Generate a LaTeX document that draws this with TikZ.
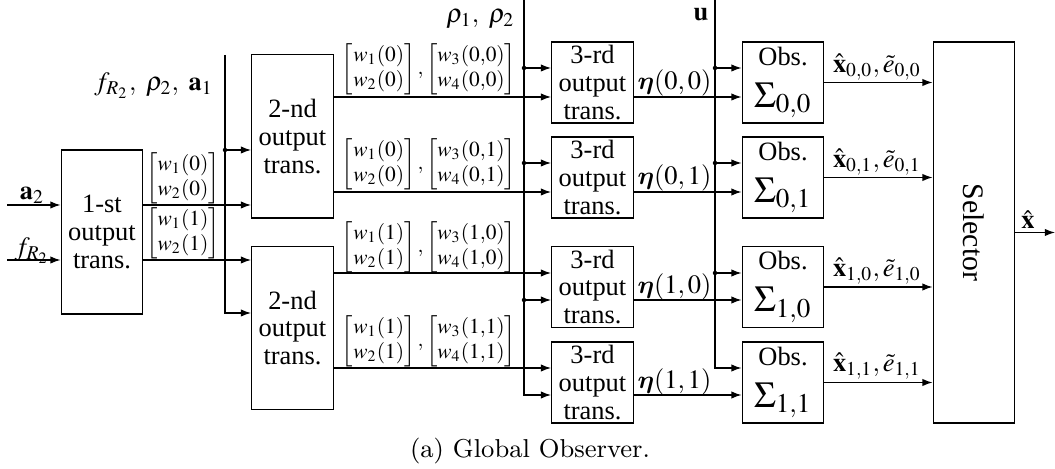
\documentclass[tikz,border=0pt]{standalone}
\usepackage{amsmath,bm}
\usepackage{mathptmx}
\usepackage[no-math]{fontspec}
\renewcommand{\rmdefault}{lmr}
\newfontfamily\tnr{Liberation Serif}
\usepackage{tikz}
\usetikzlibrary{calc,positioning,arrows.meta}
\newcommand{\sigfont}{\fontsize{13}{15}\selectfont}
\tikzset{
  blk/.style={draw, inner sep=0pt, align=center, minimum width=1.02cm},
  wlab/.style={font=\tnr\fontsize{7.6}{9}\selectfont, inner sep=0pt},
}

\begin{document}
\begin{tikzpicture}[x=0.0125cm,y=-0.0125cm,line width=0.45pt,
  >={Latex[length=3.6pt,width=2.6pt]},
  every node/.style={font=\tnr\fontsize{9.4}{9.8}\selectfont}]
  \useasboundingbox (0,0) rectangle (1055,469);

  \node[blk, minimum height=2.05cm] (box1) at (102,232) {1-st\\output\\trans.};
  \node[blk, minimum height=2.04cm] (box2a) at (292.5,136.5) {2-nd\\output\\trans.};
  \node[blk, minimum height=2.03cm] (box2b) at (292.5,328) {2-nd\\output\\trans.};
  \node[blk, minimum height=1.0125cm] (t00) at (592.5,82.5) {3-rd\\output\\trans.};
  \node[blk, minimum height=1.0125cm] (t01) at (592.5,177.5) {3-rd\\output\\trans.};
  \node[blk, minimum height=1.0125cm] (t10) at (592.5,287) {3-rd\\output\\trans.};
  \node[blk, minimum height=1.0125cm] (t11) at (592.5,382.5) {3-rd\\output\\trans.};
  \node[blk, minimum height=1.0125cm] (o00) at (783,82.5) {Obs.\\[5pt]{\sigfont$\Sigma_{0,0}$}};
  \node[blk, minimum height=1.0125cm] (o01) at (783,177.5) {Obs.\\[5pt]{\sigfont$\Sigma_{0,1}$}};
  \node[blk, minimum height=1.0125cm] (o10) at (783,287) {Obs.\\[5pt]{\sigfont$\Sigma_{1,0}$}};
  \node[blk, minimum height=1.0125cm] (o11) at (783,382.5) {Obs.\\[5pt]{\sigfont$\Sigma_{1,1}$}};
  \node[blk, minimum height=4.76cm] (sel) at (974,232.5) {};
  \node[rotate=-90, font=\tnr\fontsize{10.6}{12}\selectfont] (seltxt) at (sel.center) {Selector};

  \coordinate (a2in) at (7,205);
  \coordinate (fin) at (7,260);
  \draw[->] (a2in) -- (a2in -| box1.west);
  \draw[->] (fin) -- (fin -| box1.west);
  \node (a2lab) at (32,195) {$\mathbf{a}_2$};
  \node (flab) at (32,251) {$f_{R_2}$};
  \draw[->] (box1.east |- a2in) -- (a2in -| box2a.west);
  \draw[->] (box1.east |- fin) -- (fin -| box2b.west);
  \node[wlab] (wv0) at (183,178) {$\begin{bmatrix}w_1(0)\\ w_2(0)\end{bmatrix}$};
  \node[wlab] (wv1) at (183,233) {$\begin{bmatrix}w_1(1)\\ w_2(1)\end{bmatrix}$};

  \coordinate (ftop) at (225,55);
  \coordinate (fbot) at (225,313);
  \coordinate (fdot) at (225,150);
  \draw[->] (ftop) -- (fbot) -- (fbot -| box2b.west);
  \fill (fdot) circle (0.8pt);
  \draw[->] (fdot) -- (fdot -| box2a.west);
  \node[anchor=east] (flist) at (223,86) {$f_{R_2},\ \rho_2,\ \mathbf{a}_1$};

  \coordinate (w00) at (524,97);
  \coordinate (w01) at (524,192);
  \coordinate (w10) at (524,273);
  \coordinate (w11) at (524,368);
  \draw[->] (box2a.east |- w00) -- (w00 -| t00.west);
  \draw[->] (box2a.east |- w01) -- (w01 -| t01.west);
  \draw[->] (box2b.east |- w10) -- (w10 -| t10.west);
  \draw[->] (box2b.east |- w11) -- (w11 -| t11.west);
  \node[wlab] (wl00) at (429,69) {$\begin{bmatrix}w_1(0)\\ w_2(0)\end{bmatrix},\begin{bmatrix}w_3(0{,}0)\\ w_4(0{,}0)\end{bmatrix}$};
  \node[wlab] (wl01) at (429,164) {$\begin{bmatrix}w_1(0)\\ w_2(0)\end{bmatrix},\begin{bmatrix}w_3(0{,}1)\\ w_4(0{,}1)\end{bmatrix}$};
  \node[wlab] (wl10) at (429,247) {$\begin{bmatrix}w_1(1)\\ w_2(1)\end{bmatrix},\begin{bmatrix}w_3(1{,}0)\\ w_4(1{,}0)\end{bmatrix}$};
  \node[wlab] (wl11) at (429,341) {$\begin{bmatrix}w_1(1)\\ w_2(1)\end{bmatrix},\begin{bmatrix}w_3(1{,}1)\\ w_4(1{,}1)\end{bmatrix}$};

  \coordinate (rtop) at (524,0);
  \coordinate (r00) at (524,68);
  \coordinate (r01) at (524,163);
  \coordinate (r10) at (524,300);
  \coordinate (rbot) at (524,395);
  \draw[->] (rtop) -- (rbot) -- (rbot -| t11.west);
  \fill (r00) circle (0.8pt);
  \fill (r01) circle (0.8pt);
  \fill (r10) circle (0.8pt);
  \draw[->] (r00) -- (r00 -| t00.west);
  \draw[->] (r01) -- (r01 -| t01.west);
  \draw[->] (r10) -- (r10 -| t10.west);
  \node[anchor=east, inner sep=1pt] (rholab) at (518,19) {$\rho_1,\ \rho_2$};

  \coordinate (e00) at (715,97);
  \coordinate (e01) at (715,192);
  \coordinate (e10) at (715,300);
  \coordinate (e11) at (715,395);
  \draw[->] (t00.east |- e00) -- (e00 -| o00.west);
  \draw[->] (t01.east |- e01) -- (e01 -| o01.west);
  \draw[->] (t10.east |- e10) -- (e10 -| o10.west);
  \draw[->] (t11.east |- e11) -- (e11 -| o11.west);
  \node (eta00) at (674.5,83) {$\bm{\eta}(0,0)$};
  \node (eta01) at (674.5,178) {$\bm{\eta}(0,1)$};
  \node (eta10) at (674.5,287) {$\bm{\eta}(1,0)$};
  \node (eta11) at (674.5,382) {$\bm{\eta}(1,1)$};

  \coordinate (utop) at (715,0);
  \coordinate (u00) at (715,68);
  \coordinate (u01) at (715,163);
  \coordinate (u10) at (715,273);
  \coordinate (ubot) at (715,368);
  \draw[->] (utop) -- (ubot) -- (ubot -| o11.west);
  \fill (u00) circle (0.8pt);
  \fill (u01) circle (0.8pt);
  \fill (u10) circle (0.8pt);
  \draw[->] (u00) -- (u00 -| o00.west);
  \draw[->] (u01) -- (u01 -| o01.west);
  \draw[->] (u10) -- (u10 -| o10.west);
  \node[inner sep=1pt] (ulab) at (701,15) {$\mathbf{u}$};

  \draw[->] (o00.east) -- (o00.east -| sel.west);
  \draw[->] (o01.east) -- (o01.east -| sel.west);
  \draw[->] (o10.east) -- (o10.east -| sel.west);
  \draw[->] (o11.east) -- (o11.east -| sel.west);
  \node[anchor=south, inner sep=0.5pt] (x00) at (877,82) {$\hat{\mathbf{x}}_{0,0},\tilde{e}_{0,0}$};
  \node[anchor=south, inner sep=0.5pt] (x01) at (877,177) {$\hat{\mathbf{x}}_{0,1},\tilde{e}_{0,1}$};
  \node[anchor=south, inner sep=0.5pt] (x10) at (877,286) {$\hat{\mathbf{x}}_{1,0},\tilde{e}_{1,0}$};
  \node[anchor=south, inner sep=0.5pt] (x11) at (877,381) {$\hat{\mathbf{x}}_{1,1},\tilde{e}_{1,1}$};

  \coordinate (xout) at (1055,232.5);
  \draw[->] (sel.east) -- (xout);
  \node[anchor=south, inner sep=1pt] (xlab) at (1028,232) {$\hat{\mathbf{x}}$};

  \node[font=\fontfamily{lmr}\fontsize{9.2}{11}\selectfont] (cap) at (530,451) {(a) Global Observer.};
\end{tikzpicture}
\end{document}
